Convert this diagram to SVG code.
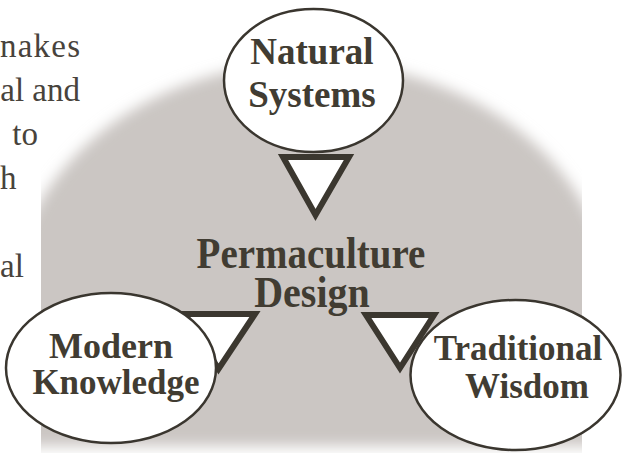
<svg xmlns="http://www.w3.org/2000/svg" width="623" height="453" viewBox="0 0 623 453">
  <style>
    .side { font-family: "Liberation Serif", "Times New Roman", serif; font-size: 33px; fill: #48433c; }
    .label { font-family: "Liberation Serif", "Times New Roman", serif; font-weight: bold; fill: #413c32; text-anchor: middle; }
    .node { fill: #ffffff; stroke: #3a362f; stroke-width: 2.5; }
    .tri { fill: #ffffff; stroke: #3b372f; stroke-width: 6; stroke-linejoin: miter; }
  </style>
  <defs>
    <filter id="soft" x="-10%" y="-10%" width="120%" height="120%">
      <feGaussianBlur stdDeviation="7"/>
    </filter>
    <clipPath id="panel">
      <rect x="41" y="0" width="541" height="453"/>
    </clipPath>
  </defs>
  <rect width="623" height="453" fill="#ffffff"/>
  <g id="background" clip-path="url(#panel)">
    <path d="M11,307 A300,245 0 0 1 611,307 L611,446 L11,446 Z" fill="#cbc6c3" filter="url(#soft)"/>
  </g>
  <g id="side-text">
    <text class="side" x="0" y="57" textLength="80" lengthAdjust="spacing">nakes</text>
    <text class="side" x="80" y="101" text-anchor="end">al and</text>
    <text class="side" x="38" y="145" text-anchor="end">to</text>
    <text class="side" x="0" y="189">h</text>
    <text class="side" x="0" y="277">al</text>
  </g>
  <g id="connectors">
    <polygon class="tri" points="283,157 349,157 315.5,215"/>
    <polygon class="tri" points="185,314 255,314 218.5,369"/>
    <polygon class="tri" points="366,315 434,315 400,368"/>
  </g>
  <g id="center">
    <text class="label" transform="translate(311,268) scale(1,1.12)" x="0" y="0" font-size="39">Permaculture</text>
    <text class="label" transform="translate(312,307) scale(1,1.12)" x="0" y="0" font-size="40">Design</text>
  </g>
  <g id="natural-systems">
    <ellipse class="node" cx="313.5" cy="80.5" rx="89.5" ry="71.5"/>
    <text class="label" x="312" y="64" font-size="37">Natural</text>
    <text class="label" x="312" y="107" font-size="37">Systems</text>
  </g>
  <g id="modern-knowledge">
    <ellipse class="node" cx="111" cy="368" rx="105" ry="75"/>
    <text class="label" x="111" y="358" font-size="36">Modern</text>
    <text class="label" x="116" y="394" font-size="35">Knowledge</text>
  </g>
  <g id="traditional-wisdom">
    <ellipse class="node" cx="515.5" cy="375" rx="105" ry="75"/>
    <text class="label" x="518" y="360" font-size="35">Traditional</text>
    <text class="label" x="527" y="398" font-size="35">Wisdom</text>
  </g>
</svg>
